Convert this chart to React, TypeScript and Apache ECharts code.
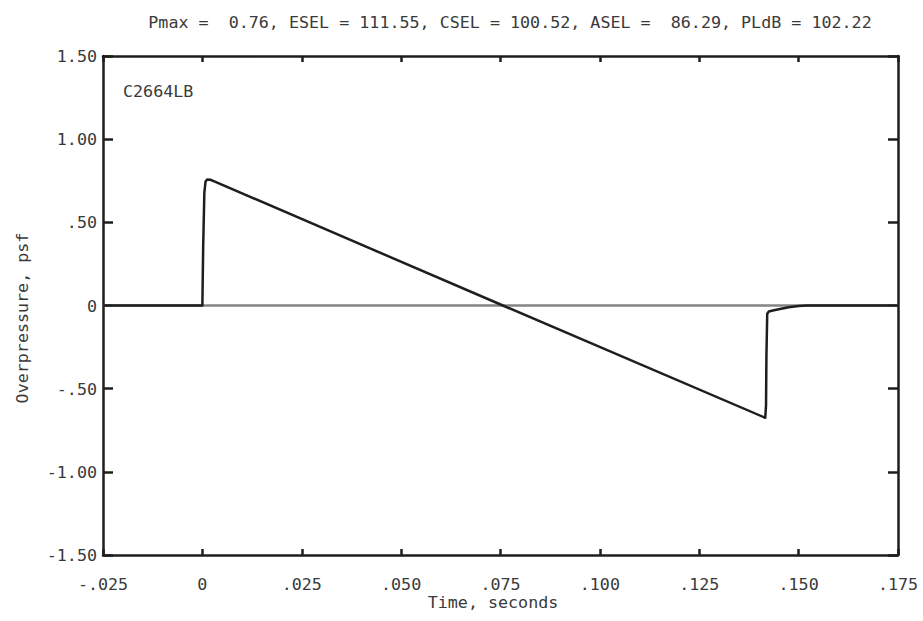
import React, { useEffect, useRef } from "react";
import * as echarts from "echarts";

const timeSeconds = [
  -0.025, 0, 0.0002, 0.0005, 0.0008, 0.0012, 0.002, 0.003, 0.0756, 0.1416,
  0.1418, 0.1419, 0.1421, 0.1425, 0.1435, 0.145, 0.1475, 0.15, 0.152, 0.175,
];
const overpressurePsf = [
  0, 0, 0.35, 0.68, 0.745, 0.757, 0.756, 0.746, 0, -0.675,
  -0.6, -0.3, -0.05, -0.036, -0.03, -0.022, -0.01, -0.003, 0, 0,
];
const zeroLineX = [-0.025, 0.175];
const zeroLineY = [0, 0];
const xTickLabels = ["-.025", "0", ".025", ".050", ".075", ".100", ".125", ".150", ".175"];
const yTickLabels = ["-1.50", "-1.00", "-.50", "0", ".50", "1.00", "1.50"];
const titleText = "Pmax =  0.76, ESEL = 111.55, CSEL = 100.52, ASEL =  86.29, PLdB = 102.22";
const caseLabel = "C2664LB";
const xName = "Time, seconds";
const yName = "Overpressure, psf";

const FONT = "'DejaVu Sans Mono', 'Liberation Mono', monospace";
const FS = 16.7;
const INK = "#1e1e1e";
const TXT = "#3a3a3a";

export default function App() {
  const ref = useRef<HTMLDivElement>(null);
  useEffect(() => {
    if (!ref.current) return;
    const chart = echarts.init(ref.current, undefined, { renderer: "svg" });
    const xMin = -0.025, xMax = 0.175, xInt = 0.025;
    const yMin = -1.5, yMax = 1.5, yInt = 0.5;
    const xIdx = (v: number) => Math.round((v - xMin) / xInt);
    const yIdx = (v: number) => Math.round((v - yMin) / yInt);
    const axisLine = { show: true, onZero: false, lineStyle: { color: INK, width: 2.5 } };
    chart.setOption({
      animation: false,
      backgroundColor: "#ffffff",
      textStyle: { fontFamily: FONT },
      grid: { left: 103, right: 25, top: 56, bottom: 66, containLabel: false },
      xAxis: [
        {
          type: "value", min: xMin, max: xMax, interval: xInt, position: "bottom",
          axisLine,
          axisTick: { show: true, inside: true, length: 6, lineStyle: { color: INK, width: 2.5 } },
          axisLabel: {
            show: true, margin: 20, fontFamily: FONT, fontSize: FS, color: TXT,
            formatter: (v: number) => xTickLabels[xIdx(v)] ?? "",
          },
          splitLine: { show: false },
        },
        {
          type: "value", min: xMin, max: xMax, interval: xInt, position: "top",
          axisLine,
          axisTick: { show: true, inside: true, length: 6, lineStyle: { color: INK, width: 2.5 } },
          axisLabel: { show: false },
          splitLine: { show: false },
        },
      ],
      yAxis: [
        {
          type: "value", min: yMin, max: yMax, interval: yInt, position: "left",
          axisLine,
          axisTick: { show: true, inside: true, length: 10, lineStyle: { color: INK, width: 2.5 } },
          axisLabel: {
            show: true, margin: 6, fontFamily: FONT, fontSize: FS, color: TXT,
            formatter: (v: number) => yTickLabels[yIdx(v)] ?? "",
          },
          splitLine: { show: false },
        },
        {
          type: "value", min: yMin, max: yMax, interval: yInt, position: "right",
          axisLine,
          axisTick: { show: true, inside: true, length: 10, lineStyle: { color: INK, width: 2.5 } },
          axisLabel: { show: false },
          splitLine: { show: false },
        },
      ],
      series: [
        {
          type: "line", xAxisIndex: 0, yAxisIndex: 0, symbol: "none", silent: true,
          data: zeroLineX.map((x, i) => [x, zeroLineY[i]]),
          lineStyle: { color: "#858585", width: 2.5 }, z: 2,
        },
        {
          type: "line", xAxisIndex: 0, yAxisIndex: 0, symbol: "none", silent: true,
          data: timeSeconds.map((x, i) => [x, overpressurePsf[i]]),
          lineStyle: { color: INK, width: 2.5, join: "round" }, z: 3,
        },
      ],
      graphic: [
        {
          type: "text", x: 510, y: 22,
          style: { text: titleText, fontFamily: FONT, fontSize: FS, fill: TXT, align: "center", verticalAlign: "middle" },
        },
        {
          type: "text", x: 123, y: 91,
          style: { text: caseLabel, fontFamily: FONT, fontSize: FS, fill: TXT, align: "left", verticalAlign: "middle" },
        },
        {
          type: "text", x: 493, y: 602,
          style: { text: xName, fontFamily: FONT, fontSize: FS, fill: TXT, align: "center", verticalAlign: "middle" },
        },
        {
          type: "text", x: 22, y: 318, rotation: Math.PI / 2,
          style: { text: yName, fontFamily: FONT, fontSize: FS, fill: TXT, align: "center", verticalAlign: "middle" },
        },
      ],
    });
    return () => chart.dispose();
  }, []);
  return <div ref={ref} style={{ width: 923, height: 621, position: "absolute", left: 0, top: 0 }} />;
}
